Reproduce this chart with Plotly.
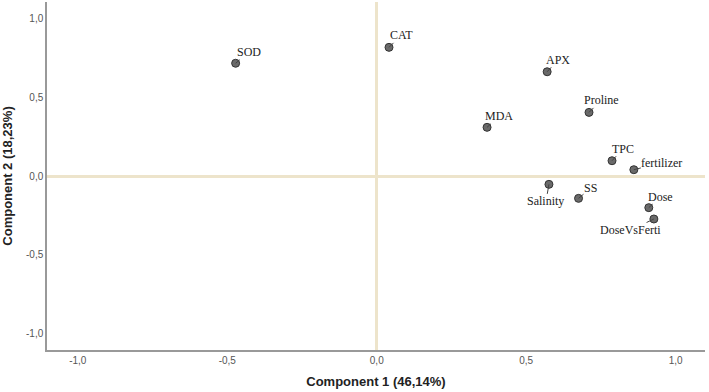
import plotly.graph_objects as go

variables = ["SOD", "CAT", "APX", "Proline", "MDA", "TPC", "fertilizer",
             "Salinity", "SS", "Dose", "DoseVsFerti"]
comp1 = [-0.472, 0.041, 0.570, 0.710, 0.369, 0.787, 0.860, 0.576, 0.675, 0.910, 0.927]
comp2 = [0.716, 0.817, 0.662, 0.404, 0.309, 0.097, 0.040, -0.053, -0.142, -0.201, -0.273]
# label offsets in pixels (text centre relative to point)
label_dx = [13, 12, 11, 12, 12, 11, 28, -3, 12, 12, -23]
label_dy = [-11, -12, -12, -12, -11, -12, -7, 17, -10, -11, 11]

tick_vals = [-1.0, -0.5, 0.0, 0.5, 1.0]
tick_text = ["-1,0", "-0,5", "0,0", "0,5", "1,0"]

fig = go.Figure()
fig.add_trace(go.Scatter(
    x=comp1, y=comp2, mode="markers",
    marker=dict(size=8, color="#6a6a6a", line=dict(color="#333333", width=1)),
    hoverinfo="text", text=variables, showlegend=False,
))

for name, x, y, dx, dy in zip(variables, comp1, comp2, label_dx, label_dy):
    fig.add_annotation(
        x=x, y=y, text=name, showarrow=True, arrowhead=0, arrowwidth=1,
        arrowcolor="#444444", ax=dx, ay=dy, standoff=0,
        font=dict(family="Liberation Serif", size=12, color="#222222"),
        borderpad=0,
    )

fig.update_layout(
    width=709, height=392,
    margin=dict(l=47, r=4, t=2, b=42),
    paper_bgcolor="white", plot_bgcolor="white",
    font=dict(family="Liberation Sans", color="#444444"),
)
fig.update_xaxes(
    range=[-1.103, 1.098], tickvals=tick_vals, ticktext=tick_text,
    showgrid=False, zeroline=True, zerolinecolor="#EDE4CB", zerolinewidth=2.5,
    showline=True, linecolor="#999999", linewidth=1.5, ticks="",
    tickfont=dict(size=10, color="#555555"),
    title=dict(text="<b>Component 1 (46,14%)</b>", font=dict(size=13, color="#222222"), standoff=12),
)
fig.update_yaxes(
    range=[-1.105, 1.105], tickvals=tick_vals, ticktext=tick_text,
    showgrid=False, zeroline=True, zerolinecolor="#EDE4CB", zerolinewidth=2.5,
    showline=True, linecolor="#999999", linewidth=1.5, ticks="",
    tickfont=dict(size=10, color="#555555"),
    title=dict(text="<b>Component 2 (18,23%)</b>", font=dict(size=13, color="#222222"), standoff=10),
)

fig.write_html("out.html", config={"displayModeBar": False},
               post_script="document.body.style.margin='0';document.body.style.overflow='hidden';")
